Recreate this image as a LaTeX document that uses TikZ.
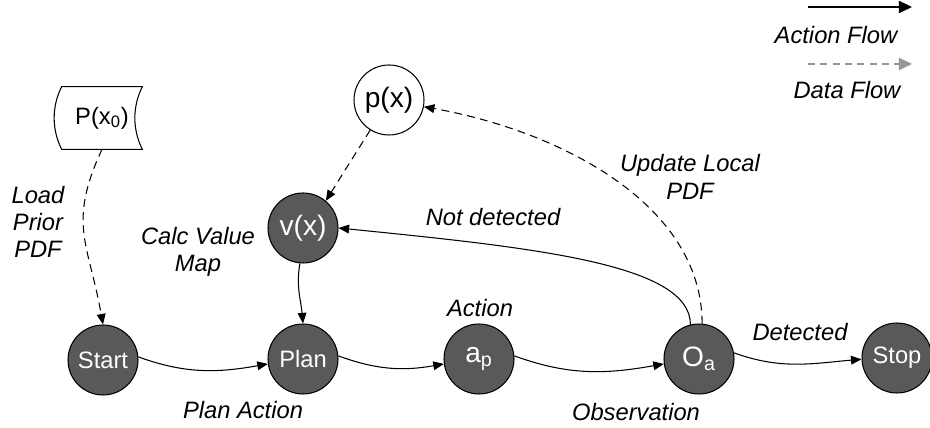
\documentclass[tikz,border=0pt]{standalone}
\usepackage{fontspec}
\setmainfont{Liberation Sans}
\usepackage{tikz}
\usetikzlibrary{arrows.meta}
\definecolor{stategray}{RGB}{89,89,89}
\definecolor{datagray}{RGB}{150,150,150}
\tikzset{
  state/.style={circle,draw,line width=0.6pt,fill=stategray,text=white,minimum size=1.4cm,inner sep=0pt,font=\fontsize{13.5}{16}\selectfont},
  bigtext/.style={font=\fontsize{16}{18}\selectfont},
  lbl/.style={font=\fontsize{13.5}{15.6}\selectfont\itshape,align=center,inner sep=0pt},
  act/.style={-{Triangle[length=6pt,width=5pt]},line width=0.6pt},
  dat/.style={act,dash pattern=on 4.5pt off 3pt},
  legact/.style={-{Triangle[length=7.5pt,width=7pt]},line width=0.7pt},
  legdat/.style={legact,datagray,dash pattern=on 4pt off 3pt}
}
\begin{document}
\begin{tikzpicture}[x=0.02cm,y=0.02cm]
\useasboundingbox (0,0) rectangle (930,-428);
\node[state] (start) at (103,-360) {Start};
\node[state] (plan) at (303,-359) {Plan};
\node[state,bigtext] (ap) at (479,-359) {a\textsubscript{p}};
\node[state,bigtext] (oa) at (699,-359) {O\textsubscript{a}};
\node[state] (stop) at (897,-358) {Stop};
\node[state,bigtext] (vx) at (303,-228) {v(x)};
\node[state,bigtext,fill=white,text=black] (px) at (389,-100) {p(x)};
\node[minimum width=1.6cm,minimum height=1.24cm,inner sep=0pt,font=\fontsize{13.5}{16}\selectfont] (prior) at (102,-118) {P(x\textsubscript{0})};
\draw[line width=0.6pt] (prior.north west) -- (prior.north east)
  .. controls +(-10,-20) and +(-10,20) .. (prior.south east) -- (prior.south west)
  .. controls +(-10,20) and +(-10,-20) .. (prior.north west) -- cycle;

\draw[dat] (prior.south) to[out=-115,in=100,looseness=1.2] (start.north);
\draw[act] (start.5) to[out=-20,in=190] (plan.188);
\draw[act] (plan.5) to[out=-20,in=190] (ap.188);
\draw[act] (ap.5) to[out=-20,in=190] (oa.188);
\draw[act] (oa.10) to[out=-20,in=185] (stop.182);
\draw[act] (vx.-95) to[out=-100,in=95] (plan.north);
\draw[dat] (px.238) -- (vx.50);
\draw[act] (oa.104) .. controls +(0,60) and +(200,-20) .. (vx.east);
\draw[dat] (oa.85) .. controls +(0,120) and +(135,-24) .. (px.-11);

\node[lbl] (lload) at (38,-222) {Load\\Prior\\PDF};
\node[lbl] (lcalc) at (198,-252) {Calc Value\\Map};
\node[lbl] (lnot) at (493,-217) {Not detected};
\node[lbl] (lupd) at (690,-177) {Update Local\\PDF};
\node[lbl] (lact) at (480,-308) {Action};
\node[lbl] (lplan) at (243,-410) {Plan Action};
\node[lbl] (lobs) at (636,-412) {Observation};
\node[lbl] (ldet) at (800,-332) {Detected};

\coordinate (af1) at (808,-7);
\coordinate (af2) at (912,-7);
\draw[legact] (af1) -- (af2);
\node[lbl] (laf) at (836,-35) {Action Flow};
\coordinate (df1) at (808,-64);
\coordinate (df2) at (912,-64);
\draw[legdat] (df1) -- (df2);
\node[lbl] (ldf) at (847,-90) {Data Flow};
\end{tikzpicture}
\end{document}
